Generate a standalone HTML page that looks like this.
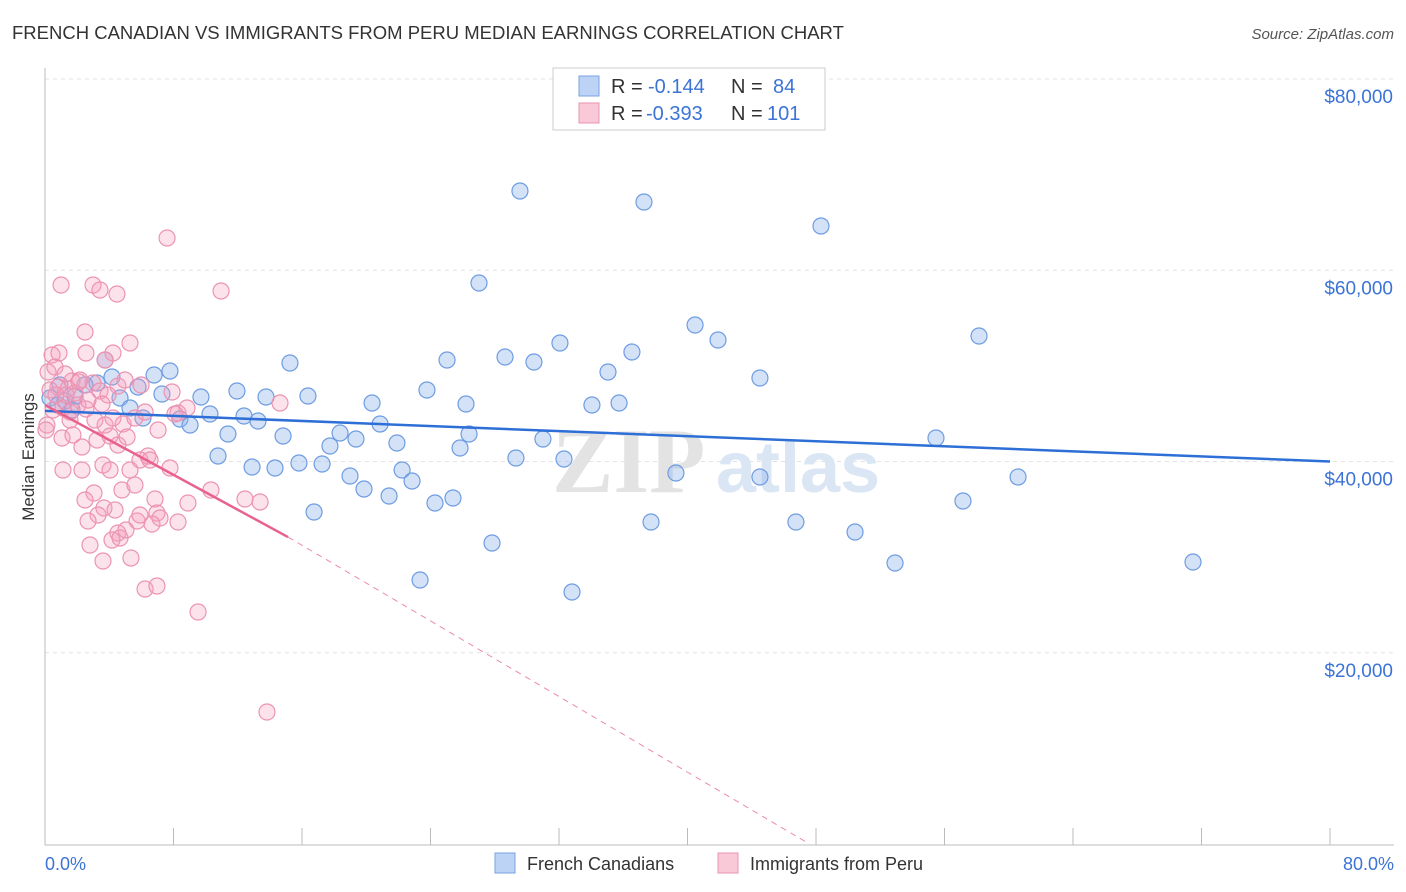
<!DOCTYPE html>
<html><head><meta charset="utf-8"><style>
body{margin:0;background:#fff;font-family:"Liberation Sans",sans-serif;}
svg{display:block}
</style></head><body>
<svg id="chart" width="1406" height="892">
<text x="12" y="39" font-size="18.5" fill="#333">FRENCH CANADIAN VS IMMIGRANTS FROM PERU MEDIAN EARNINGS CORRELATION CHART</text>
<text x="1394" y="39" font-size="15" fill="#555" text-anchor="end" font-style="italic">Source: ZipAtlas.com</text>
<g id="grid"></g>
<text x="552" y="492" font-size="92" fill="#e3e3e3" font-family="Liberation Serif,serif" font-weight="bold">ZIP</text>
<text x="716" y="492" font-size="72" fill="#dbe6f5" font-weight="bold">atlas</text>
<g id="points"></g>
<g id="trends"></g>
<text transform="translate(34,457) rotate(-90)" font-size="17" fill="#333" text-anchor="middle">Median Earnings</text>
<text x="45" y="870" font-size="18" fill="#3b73d6">0.0%</text>
<text x="1394" y="870" font-size="18" fill="#3b73d6" text-anchor="end">80.0%</text>
<g>
<rect x="553" y="68" width="272" height="62" fill="#fff" stroke="#ccc"/>
<rect x="579" y="76" width="20" height="20" fill="#bcd3f5" stroke="#7aa3e3"/>
<rect x="579" y="103" width="20" height="20" fill="#f9c9d8" stroke="#ea94b2"/>
<text x="611" y="93" font-size="20" fill="#333">R =</text>
<text x="648" y="93" font-size="20" fill="#3b73d6">-0.144</text>
<text x="731" y="93" font-size="20" fill="#333">N =</text>
<text x="773" y="93" font-size="20" fill="#3b73d6">84</text>
<text x="611" y="120" font-size="20" fill="#333">R =</text>
<text x="646" y="120" font-size="20" fill="#3b73d6">-0.393</text>
<text x="731" y="120" font-size="20" fill="#333">N =</text>
<text x="767" y="120" font-size="20" fill="#3b73d6">101</text>
</g>
<g>
<rect x="495" y="853" width="20" height="20" fill="#bcd3f5" stroke="#7aa3e3"/>
<text x="527" y="870" font-size="18" fill="#333">French Canadians</text>
<rect x="718" y="853" width="20" height="20" fill="#f9c9d8" stroke="#ea94b2"/>
<text x="750" y="870" font-size="18" fill="#333">Immigrants from Peru</text>
</g>
</svg>
<script>
const yTicks=[20000,40000,60000,80000];
const yTickLabels=["$20,000","$40,000","$60,000","$80,000"];
const xTicks=[0,8,16,24,32,40,48,56,64,72,80];
const bluePx=[[520,191],[644,202],[821,226],[479,283],[695,325],[718,340],[979,336],[560,343],[632,352],[505,357],[447,360],[534,362],[290,363],[608,372],[760,378],[427,390],[237,391],[372,403],[466,404],[619,403],[592,405],[266,397],[308,396],[201,397],[162,394],[154,375],[170,371],[105,360],[97,383],[138,387],[210,414],[244,416],[258,421],[180,419],[190,425],[228,434],[283,436],[380,424],[340,433],[330,446],[356,439],[397,443],[469,434],[460,448],[543,439],[936,438],[218,456],[252,467],[275,468],[299,463],[322,464],[402,470],[516,458],[564,459],[676,473],[760,477],[350,476],[364,489],[412,481],[389,496],[435,503],[453,498],[1018,477],[963,501],[314,512],[651,522],[796,522],[855,532],[492,543],[895,563],[1193,562],[420,580],[572,592],[50,398],[58,405],[65,401],[75,396],[85,385],[112,377],[120,398],[130,408],[143,418],[60,385],[72,410]];
const pinkPx=[[167,238],[61,285],[93,285],[100,290],[117,294],[221,291],[85,332],[130,343],[52,355],[59,353],[86,353],[113,353],[105,360],[48,372],[55,367],[65,374],[72,381],[80,380],[93,383],[58,387],[68,389],[75,393],[100,391],[118,386],[125,380],[141,385],[172,392],[53,410],[63,408],[70,412],[78,405],[86,409],[95,420],[105,425],[113,418],[123,424],[135,418],[145,412],[178,413],[187,408],[280,403],[158,430],[47,425],[62,438],[73,435],[82,447],[97,440],[110,436],[118,445],[127,437],[148,456],[140,460],[82,470],[103,465],[63,470],[94,493],[122,490],[135,485],[155,499],[85,500],[104,508],[115,510],[137,521],[157,513],[178,522],[188,503],[211,490],[245,499],[260,502],[90,545],[103,561],[118,533],[112,540],[131,558],[145,589],[157,586],[198,612],[267,712],[79,382],[66,395],[50,390],[56,395],[88,400],[108,395],[46,430],[70,420],[160,518],[152,524],[98,515],[88,521],[120,538],[126,530],[140,515],[170,468],[175,414],[110,470],[130,470],[150,460],[102,404]];
const blueX=bluePx.map(p=>+((p[0]-45)/1285*80).toFixed(2));
const blueY=bluePx.map(p=>Math.round((844-p[1])/765*80000));
const pinkX=pinkPx.map(p=>+((p[0]-45)/1285*80).toFixed(2));
const pinkY=pinkPx.map(p=>Math.round((844-p[1])/765*80000));
const blueTrend=[[0,45300],[80,40000]];
const pinkTrend=[[0,45900],[15.13,32100],[47.6,0]];
const X=v=>45+v/80*1285, Y=v=>844-v/80000*765;
const NS="http://www.w3.org/2000/svg";
function mk(t,a,parent){const e=document.createElementNS(NS,t);for(const k in a)e.setAttribute(k,a[k]);parent.appendChild(e);return e;}
const grid=document.getElementById('grid');
yTicks.forEach((v,i)=>{
 const l=mk('line',{x1:45,x2:1394,y1:Y(v),y2:Y(v),stroke:'#e2e2e2','stroke-dasharray':'4,4'},grid);
 
 
 const t=mk('text',{x:1393,y:Y(v)+24,'font-size':19,fill:'#3b73d6','text-anchor':'end'},grid);
 t.textContent=yTickLabels[i];
 
 
});
mk('line',{x1:45,x2:45,y1:68,y2:845,stroke:'#bbb'},grid);
mk('line',{x1:45,x2:1394,y1:845,y2:845,stroke:'#bbb'},grid);
xTicks.forEach(v=>{const l=mk('line',{x1:X(v),x2:X(v),y1:828,y2:845,stroke:'#bbb'},grid);
 
 });
const pts=document.getElementById('points');
blueX.forEach((x,i)=>{const c=mk('circle',{cx:X(x),cy:Y(blueY[i]),r:8,fill:'rgba(140,180,235,0.38)',stroke:'#6e9ce2','stroke-width':1.2},pts);
 
 });
pinkX.forEach((x,i)=>{const c=mk('circle',{cx:X(x),cy:Y(pinkY[i]),r:8,fill:'rgba(244,160,188,0.3)',stroke:'#ec93b2','stroke-width':1.2},pts);
 
 });
const tr=document.getElementById('trends');
const b=mk('line',{x1:X(blueTrend[0][0]),y1:Y(blueTrend[0][1]),x2:X(blueTrend[1][0]),y2:Y(blueTrend[1][1]),stroke:'#2d6fd6','stroke-width':2.5},tr);


const p1=mk('line',{x1:X(pinkTrend[0][0]),y1:Y(pinkTrend[0][1]),x2:X(pinkTrend[1][0]),y2:Y(pinkTrend[1][1]),stroke:'#e8628d','stroke-width':2.5},tr);


const p2=mk('line',{x1:X(pinkTrend[1][0]),y1:Y(pinkTrend[1][1]),x2:X(pinkTrend[2][0]),y2:Y(pinkTrend[2][1]),stroke:'#ec8aab','stroke-width':1,'stroke-dasharray':'6,5'},tr);


</script>
</body></html>
